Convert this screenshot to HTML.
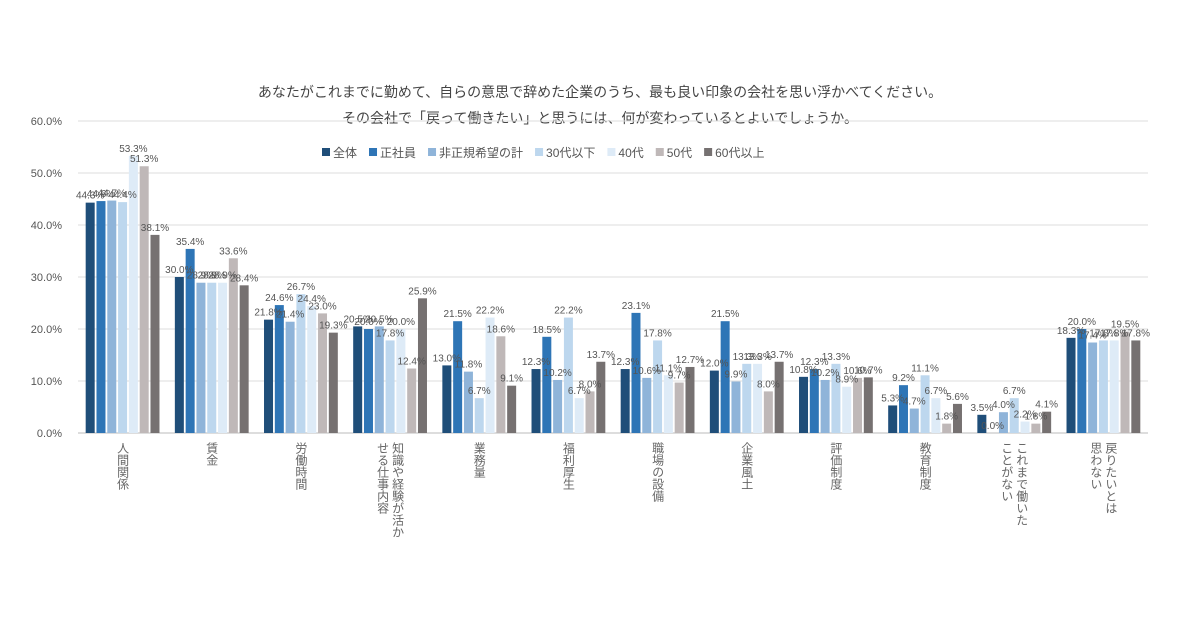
<!DOCTYPE html>
<html><head><meta charset="utf-8"><style>
body{margin:0;background:#fff}
svg{display:block;font-family:"Liberation Sans","Noto Sans CJK JP",sans-serif}
</style></head><body>
<svg id="chart" width="1200" height="630" viewBox="0 0 1200 630">
<text x="600" y="97" text-anchor="middle" font-size="14" fill="#444">あなたがこれまでに勤めて、自らの意思で辞めた企業のうち、最も良い印象の会社を思い浮かべてください。</text>
<text x="600" y="123" text-anchor="middle" font-size="14" fill="#444">その会社で「戻って働きたい」と思うには、何が変わっているとよいでしょうか。</text>
<g id="grid"></g><g id="bars"></g><g id="labels"></g><g id="xlabels"></g><g id="legend"></g>
</svg>
<script>
const categories=[["人間関係"],["賃金"],["労働時間"],["知識や経験が活か","せる仕事内容"],["業務量"],["福利厚生"],["職場の設備"],["企業風土"],["評価制度"],["教育制度"],["これまで働いた","ことがない"],["戻りたいとは","思わない"]];
const seriesNames=["全体","正社員","非正規希望の計","30代以下","40代","50代","60代以上"];
const s0=[44.3,30.0,21.8,20.5,13.0,12.3,12.3,12.0,10.8,5.3,3.5,18.3];
const s1=[44.6,35.4,24.6,20.0,21.5,18.5,23.1,21.5,12.3,9.2,0.0,20.0];
const s2=[44.7,28.9,21.4,20.5,11.8,10.2,10.6,9.9,10.2,4.7,4.0,17.4];
const s3=[44.4,28.9,26.7,17.8,6.7,22.2,17.8,13.3,13.3,11.1,6.7,17.8];
const s4=[53.3,28.9,24.4,20.0,22.2,6.7,11.1,13.3,8.9,6.7,2.2,17.8];
const s5=[51.3,33.6,23.0,12.4,18.6,8.0,9.7,8.0,10.6,1.8,1.8,19.5];
const s6=[38.1,28.4,19.3,25.9,9.1,13.7,12.7,13.7,10.7,5.6,4.1,17.8];
const yTicks=[0,10,20,30,40,50,60];
const series=[s0,s1,s2,s3,s4,s5,s6];
const colors=["#1f4e79","#2e75b6","#8fb4d9","#bdd7ee","#deebf7","#bfb8b8","#767171"];
const NS="http://www.w3.org/2000/svg";
const x0=78,x1=1148,yBase=433,pxPer=5.2;
const band=(x1-x0)/categories.length;
const y=v=>yBase-v*pxPer;
const cx=i=>x0+band*(i+0.5);
const bw=9,step=10.8;
function mk(tag,attrs,parent){const e=document.createElementNS(NS,tag);for(const k in attrs)e.setAttribute(k,attrs[k]);document.getElementById(parent).appendChild(e);return e;}
yTicks.forEach(t=>{
  const l=mk("line",{x1:x0,x2:x1,y1:y(t),y2:y(t),stroke:t===0?"#bbb":"#ddd","stroke-width":1},"grid");
  
  
  const tx=mk("text",{x:62,y:y(t)+4,"text-anchor":"end","font-size":11,fill:"#555"},"grid");
  tx.textContent=t.toFixed(1)+"%";
  
  
});
series.forEach((s,k)=>{
  s.forEach((v,i)=>{
    const bx=cx(i)+(k-3)*step-bw/2;
    const r=mk("rect",{x:bx,y:y(v),width:bw,height:v*pxPer,fill:colors[k]},"bars");
    
    
    const t=mk("text",{x:bx+bw/2,y:y(v)-4,"text-anchor":"middle","font-size":10,fill:"#555"},"labels");
    t.textContent=v.toFixed(1)+"%";
    
    
  });
});
categories.forEach((c,i)=>{
  c.forEach((line,j)=>{
    const n=c.length;
    const lx=cx(i)+((n-1)/2-j)*15;
    const t=mk("text",{x:lx,y:442,"font-size":12,fill:"#666"},"xlabels");
    t.setAttribute("style","writing-mode:vertical-rl");
    t.textContent=line;
    
    
  });
});
let lx=322;
seriesNames.forEach((n,k)=>{
  const r=mk("rect",{x:lx,y:148,width:8,height:8,fill:colors[k]},"legend");
  
  
  const t=mk("text",{x:lx+11,y:157,"font-size":12,fill:"#555"},"legend");
  t.textContent=n;
  
  
  lx+=11+t.getComputedTextLength()+12;
});
</script>
</body></html>
